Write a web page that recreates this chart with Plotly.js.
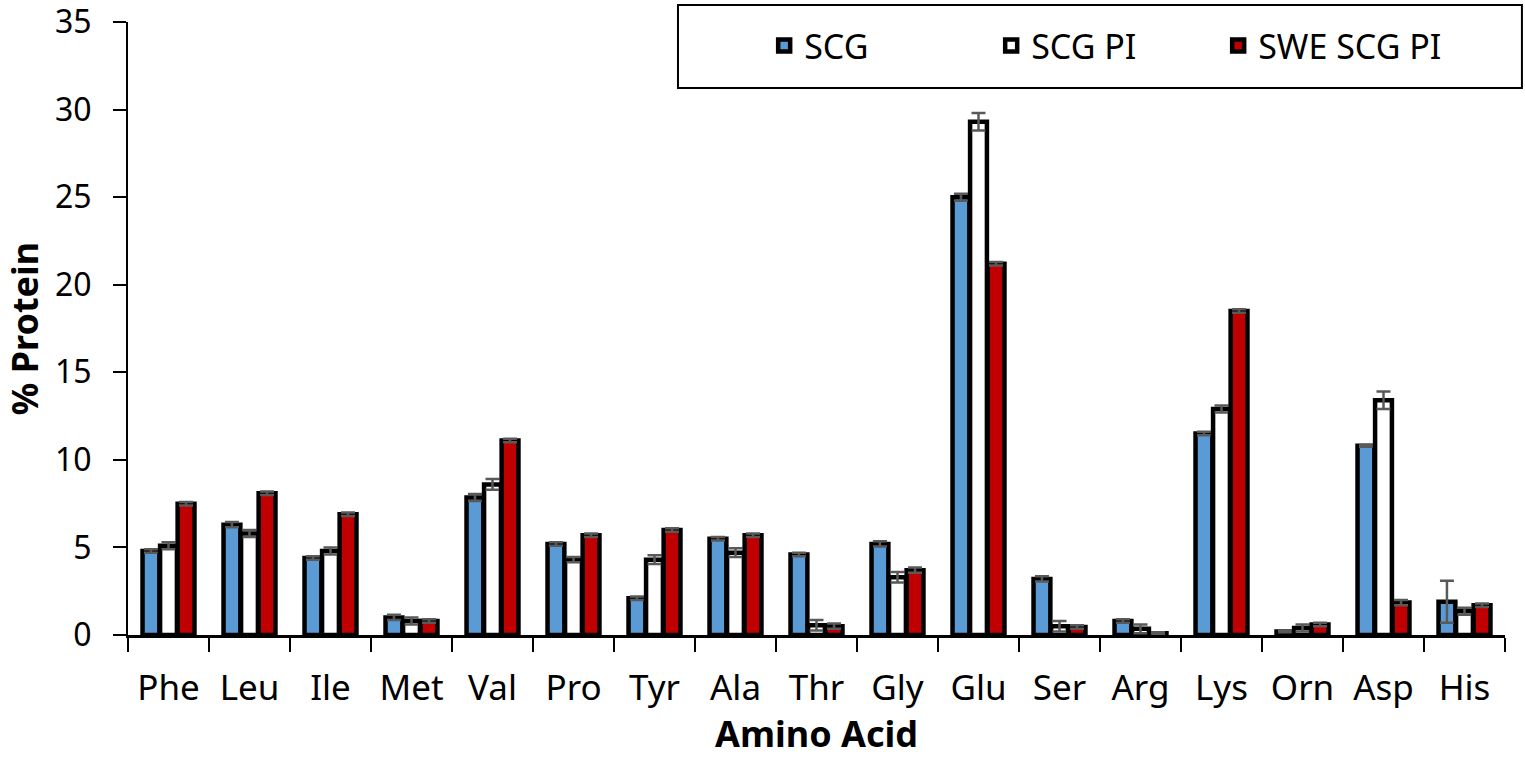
<!DOCTYPE html>
<html>
<head>
<meta charset="utf-8">
<script src="https://cdn.plot.ly/plotly-3.0.1.min.js"></script>
<style>html,body{margin:0;padding:0;background:#fff;}#chart{width:1525px;height:758px;}</style>
</head>
<body>
<div id="chart"></div>
<script>
const categories = ["Phe","Leu","Ile","Met","Val","Pro","Tyr","Ala","Thr","Gly","Glu","Ser","Arg","Lys","Orn","Asp","His"];
const scg      = [4.8, 6.3, 4.4, 1.0, 7.85, 5.2, 2.1, 5.5, 4.6, 5.2, 25.0, 3.2, 0.8, 11.5, 0.2, 10.8, 1.9];
const scgErr   = [0.1, 0.15, 0.1, 0.15, 0.2, 0.1, 0.1, 0.1, 0.1, 0.15, 0.2, 0.15, 0.1, 0.1, 0.05, 0.05, 1.2];
const scgPi    = [5.1, 5.8, 4.8, 0.8, 8.6, 4.3, 4.3, 4.7, 0.55, 3.3, 29.3, 0.5, 0.35, 12.9, 0.4, 13.4, 1.35];
const scgPiErr = [0.2, 0.2, 0.2, 0.2, 0.3, 0.15, 0.25, 0.25, 0.3, 0.3, 0.5, 0.3, 0.25, 0.2, 0.2, 0.5, 0.2];
const swe      = [7.5, 8.1, 6.9, 0.8, 11.1, 5.7, 6.0, 5.7, 0.5, 3.7, 21.2, 0.45, 0.1, 18.5, 0.6, 1.85, 1.7];
const sweErr   = [0.1, 0.1, 0.1, 0.1, 0.1, 0.1, 0.1, 0.1, 0.15, 0.15, 0.1, 0.1, 0.05, 0.1, 0.1, 0.15, 0.1];
const seriesNames = ["SCG", "SCG PI", "SWE SCG PI"];
const yTicks = [0, 5, 10, 15, 20, 25, 30, 35];

const FONT = "Noto Sans, Open Sans, sans-serif";
function mk(name, y, err, color) {
  return {
    type: 'bar', name: name, x: categories, y: y,
    marker: {color: color, line: {color: '#000', width: 4.5}},
    error_y: {type: 'data', array: err, visible: true, color: '#595959', thickness: 2.5, width: 7}
  };
}
const data = [
  mk(seriesNames[0], scg, scgErr, '#5b9bd5'),
  mk(seriesNames[1], scgPi, scgPiErr, '#ffffff'),
  mk(seriesNames[2], swe, sweErr, '#c00000')
];
const layout = {
  width: 1525, height: 758,
  margin: {l: 128, r: 20, t: 22, b: 123},
  paper_bgcolor: '#fff', plot_bgcolor: '#fff',
  font: {family: FONT, size: 34, color: '#000'},
  barmode: 'group', bargap: 0.35, bargroupgap: 0.04,
  showlegend: true,
  legend: {orientation: 'h', x: 0.462, xanchor: 'left', y: 0.961, yanchor: 'middle',
           entrywidthmode: 'pixels', entrywidth: 182,
           font: {family: FONT, size: 34, color: '#000'}, bgcolor: 'rgba(0,0,0,0)', borderwidth: 0},
  shapes: [{type: 'rect', xref: 'paper', yref: 'paper', x0: 0.3994, x1: 1.0123, y0: 0.8923, y1: 1.0277,
            line: {color: '#000', width: 2}, fillcolor: 'rgba(0,0,0,0)', layer: 'below'}],
  xaxis: {
    type: 'category', showline: true, linecolor: '#000', linewidth: 3, automargin: false,
    ticks: 'outside', tickson: 'boundaries', ticklen: 14, tickwidth: 2, tickcolor: '#000',
    tickfont: {family: FONT, size: 35, color: '#000'}, ticklabelstandoff: 20,
    showgrid: false, zeroline: false,
    title: {text: '<b>Amino Acid</b>', font: {family: FONT, size: 36, color: '#000'}, standoff: 32}
  },
  yaxis: {
    range: [0, 35], tickvals: yTicks, showline: true, linecolor: '#000', linewidth: 2, automargin: false,
    ticks: 'outside', ticklen: 13, tickwidth: 2, tickcolor: '#000', ticklabeloverflow: 'allow',
    tickfont: {family: FONT, size: 32, color: '#000'}, ticklabelstandoff: 15,
    showgrid: false, zeroline: false,
    title: {text: '<b>% Protein</b>', font: {family: FONT, size: 36, color: '#000'}, standoff: 12}
  }
};
Plotly.newPlot('chart', data, layout, {displayModeBar: false, staticPlot: true});
</script>
</body>
</html>
